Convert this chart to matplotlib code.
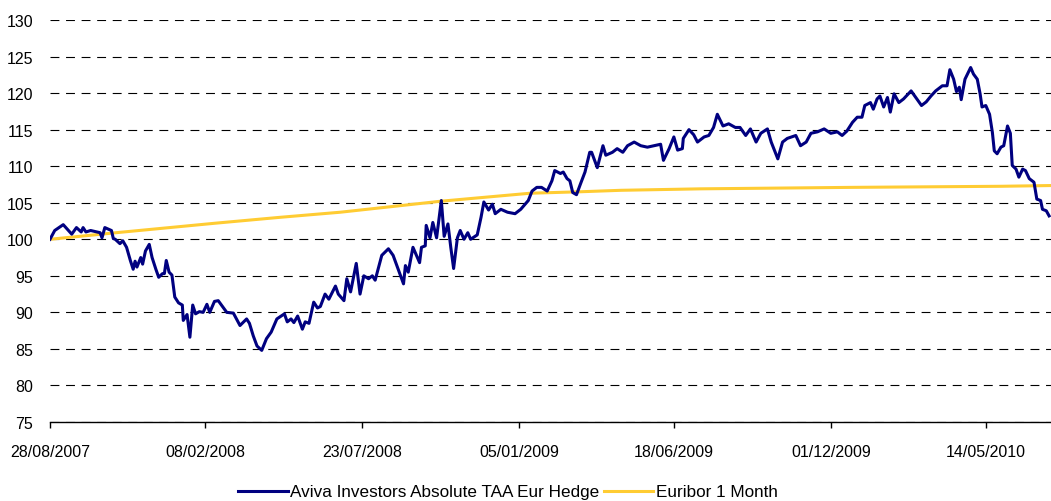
import numpy as np
import pandas as pd
import matplotlib
matplotlib.use("Agg")
import matplotlib.pyplot as plt
import matplotlib.dates as mdates

plt.rcParams['font.family'] = ['Liberation Sans', 'DejaVu Sans']

start = pd.Timestamp('2007-08-28')

# Aviva Investors Absolute TAA Eur Hedge (days since 28/08/2007, index value)
fund_days = [
    0, 5, 14, 23, 28, 33, 35, 38, 43, 53, 55, 58, 65, 67, 69, 74, 77, 81, 85, 88,
    90, 92, 96, 98, 101, 105, 108, 112, 115, 119, 121, 123, 126, 129, 132, 136, 140, 141, 145, 148,
    151, 154, 158, 162, 166, 169, 174, 178, 187, 194, 201, 208, 211, 215, 219, 224, 229, 234, 240, 248,
    251, 255, 258, 262, 267, 270, 274, 279, 283, 286, 291, 295, 302, 305, 311, 314, 318, 324, 328, 332,
    337, 341, 344, 351, 358, 363, 370, 374, 376, 379, 384, 391, 393, 397, 398, 402, 405, 409, 414, 417,
    421, 424, 427, 431, 434, 438, 442, 445, 452, 456, 459, 464, 468, 471, 477, 484, 492, 498, 506, 510,
    515, 520, 526, 531, 534, 540, 543, 547, 550, 553, 557, 561, 566, 571, 573, 579, 585, 588, 595, 600,
    606, 611, 618, 625, 632, 639, 646, 649, 655, 660, 664, 669, 670, 676, 681, 685, 692, 697, 702, 706,
    712, 718, 725, 730, 736, 741, 747, 752, 759, 763, 770, 775, 780, 789, 794, 800, 805, 812, 819, 826,
    833, 838, 843, 849, 854, 859, 862, 868, 871, 875, 878, 882, 886, 889, 893, 898, 903, 911, 916, 922,
    927, 932, 937, 944, 949, 952, 956, 959, 962, 964, 968, 974, 977, 981, 984, 986, 990, 994, 997, 999,
    1002, 1006, 1009, 1013, 1016, 1018, 1022, 1025, 1029, 1032, 1036, 1041, 1044, 1048, 1050, 1054, 1057,
]
fund_values = [
    100.0, 101.2, 102.0, 100.7, 101.6, 101.0, 101.6, 101.0, 101.2, 100.9, 100.2, 101.6, 101.2, 100.1, 100.0, 99.4, 99.8, 98.9, 97.1, 95.9,
    97.0, 96.2, 97.5, 96.6, 98.4, 99.3, 97.5, 95.9, 94.8, 95.3, 95.3, 97.1, 95.5, 95.1, 92.1, 91.3, 91.0, 88.9, 89.7, 86.6,
    91.0, 89.8, 90.1, 90.0, 91.1, 90.0, 91.5, 91.6, 90.0, 89.9, 88.2, 89.1, 88.5, 86.8, 85.4, 84.8, 86.4, 87.3, 89.1, 89.8,
    88.7, 89.1, 88.6, 89.5, 87.7, 88.7, 88.5, 91.4, 90.6, 90.8, 92.5, 91.8, 93.6, 92.5, 91.6, 94.6, 92.8, 96.7, 92.5, 95.0,
    94.6, 95.0, 94.4, 97.8, 98.7, 97.8, 95.3, 93.9, 96.4, 95.5, 98.9, 96.8, 98.9, 99.1, 101.9, 100.2, 102.3, 100.2, 105.3, 100.4,
    102.1, 98.9, 96.0, 100.2, 101.2, 100.0, 100.9, 100.0, 100.6, 103.0, 105.1, 104.0, 104.8, 103.5, 104.1, 103.7, 103.5, 104.1, 105.3, 106.6,
    107.1, 107.1, 106.6, 108.0, 109.4, 109.0, 109.2, 108.3, 108.0, 106.4, 106.1, 107.5, 109.2, 111.9, 111.9, 109.8, 112.8, 111.5, 111.9, 112.4,
    111.9, 112.8, 113.3, 112.8, 112.6, 112.8, 113.0, 110.8, 112.4, 114.0, 112.2, 112.4, 113.8, 115.0, 114.3, 113.3, 114.0, 114.2, 115.3, 117.1,
    115.5, 115.8, 115.3, 115.3, 114.2, 115.1, 113.3, 114.5, 115.1, 113.3, 111.0, 113.3, 113.8, 114.2, 112.8, 113.3, 114.5, 114.7, 115.1, 114.5,
    114.7, 114.2, 114.8, 116.0, 116.7, 116.7, 118.3, 118.7, 117.8, 119.2, 119.6, 118.1, 119.4, 117.4, 119.9, 118.7, 119.2, 120.3, 119.4, 118.3,
    118.8, 119.6, 120.3, 121.0, 121.0, 123.2, 121.9, 120.2, 120.8, 119.1, 121.9, 123.5, 122.6, 121.9, 119.9, 118.1, 118.3, 117.1, 114.6, 112.1,
    111.7, 112.6, 112.8, 115.5, 114.5, 110.1, 109.6, 108.5, 109.6, 109.4, 108.3, 107.8, 105.5, 105.3, 104.1, 103.9, 103.2,
]

# Euribor 1 Month (days since 28/08/2007, index value)
euribor_days = [0, 74, 175, 243, 307, 413, 456, 508, 561, 604, 688, 847, 1006, 1058]
euribor_values = [100.0, 100.95, 102.2, 103.0, 103.7, 105.2, 105.7, 106.3, 106.5, 106.7, 106.9, 107.1, 107.25, 107.35]

tick_labels = ['28/08/2007', '08/02/2008', '23/07/2008', '05/01/2009',
               '18/06/2009', '01/12/2009', '14/05/2010']

fund_dates = start + pd.to_timedelta(fund_days, unit='D')
euribor_dates = start + pd.to_timedelta(euribor_days, unit='D')
tick_dates = pd.to_datetime(tick_labels, format='%d/%m/%Y')

fig = plt.figure(figsize=(10.51, 5.02), dpi=100)
ax = fig.add_axes([50 / 1051, 1 - 423 / 502, 1 - 50 / 1051, (423 - 21) / 502])

ax.plot(fund_dates, fund_values, color='#000080', linewidth=2.2,
        label='Aviva Investors Absolute TAA Eur Hedge', zorder=3)
ax.plot(euribor_dates, euribor_values, color='#FFCC33', linewidth=2.2,
        label='Euribor 1 Month', zorder=2)

ax.set_ylim(75, 130)
ax.set_yticks(np.arange(75, 131, 5))
ax.set_xlim(start, start + pd.Timedelta(days=1059))
ax.set_xticks(tick_dates)
ax.xaxis.set_major_formatter(mdates.DateFormatter('%d/%m/%Y'))

ax.grid(axis='y', color='black', linestyle=(0, (8, 6)), linewidth=0.8)
ax.set_axisbelow(True)
for side in ['top', 'right', 'left']:
    ax.spines[side].set_visible(False)
ax.spines['bottom'].set_linewidth(1.0)
ax.tick_params(axis='y', length=0, pad=12, labelsize=11.5)
ax.tick_params(axis='x', direction='out', length=4, width=1, pad=12, labelsize=11.5)

fig.legend(loc='center', bbox_to_anchor=(508 / 1051, 1 - 493 / 502), ncol=2,
           frameon=False, fontsize=12.3, handlelength=2.9, handletextpad=0.15,
           columnspacing=0.25)

fig.savefig('out.png', dpi=100)
